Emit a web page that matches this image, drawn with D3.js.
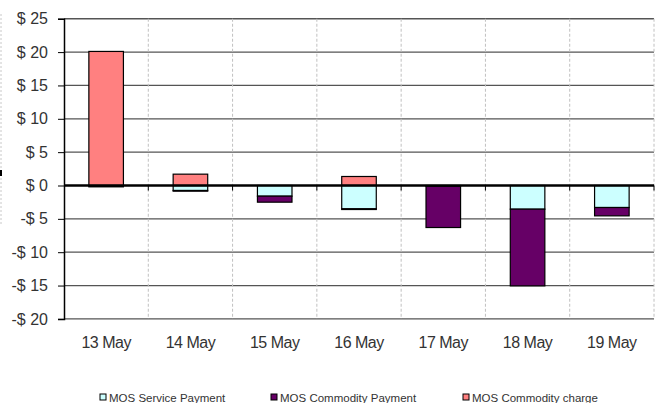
<!DOCTYPE html>
<html><head><meta charset="utf-8">
<script src="https://cdn.jsdelivr.net/npm/d3@7"></script>
<style>body{margin:0;background:#fff}svg{display:block}text{font-family:"Liberation Sans",Arial,sans-serif}</style>
</head><body><svg id="c" width="656" height="403"></svg>
<script>
const categories = ["13 May","14 May","15 May","16 May","17 May","18 May","19 May"];
const servicePayment   = [-0.05,-0.75,-1.6,-3.5,-0.1,-3.55,-3.3];
const commodityPayment = [-0.15,-0.1,-0.9,-0.1,-6.2,-11.5,-1.25];
const commodityCharge  = [20.1,1.7,0,1.35,0,0,0];
const yTicks = [25,20,15,10,5,0,-5,-10,-15,-20];
const seriesNames = ["MOS Service Payment","MOS Commodity Payment","MOS Commodity charge"];
const colors = ["#CCFFFF","#660066","#FF8080"];

const svg = d3.select("#c");
const L=64, R=654, T=18.75, B=318.9;
const x = d3.scaleBand().domain(categories).range([L,R]).paddingInner(0.59).paddingOuter(0.295);
const xb = d3.scaleBand().domain(categories).range([L,R]);
const y = d3.scaleLinear().domain([-20,25]).range([B,T]);

// left crop border
svg.append("line").attr("x1",1).attr("x2",1).attr("y1",14).attr("y2",225)
  .attr("stroke","#c8c8c8").attr("stroke-dasharray","2,2");
svg.append("rect").attr("x",0).attr("y",170).attr("width",2).attr("height",6).attr("fill","#000");

// horizontal gridlines
svg.append("g").selectAll("line").data(yTicks.filter(d=>d!==0)).join("line")
  .attr("x1",L).attr("x2",R).attr("y1",d=>y(d)).attr("y2",d=>y(d))
  .attr("stroke","#555").attr("stroke-width",1.3);
// vertical dashed gridlines
svg.append("g").selectAll("line").data(categories).join("line")
  .attr("x1",d=>xb(d)+xb.bandwidth()).attr("x2",d=>xb(d)+xb.bandwidth())
  .attr("y1",T).attr("y2",B).attr("stroke","#c0c0c0").attr("stroke-dasharray","3,2");

// stacked bars
const rows = categories.map((c,i)=>({c, s:servicePayment[i], p:commodityPayment[i], ch:commodityCharge[i]}));
const g = svg.append("g");
rows.forEach((r,i)=>{
  const segs = [];
  segs.push({y0:0,y1:r.s,col:colors[0]});
  segs.push({y0:r.s,y1:r.s+r.p,col:colors[1]});
  if(r.ch>0) segs.push({y0:0,y1:r.ch,col:colors[2]});
  segs.forEach(s=>{
    if(s.y0===s.y1) return;
    g.append("rect").attr("x",x(r.c)).attr("width",x.bandwidth())
      .attr("y",y(Math.max(s.y0,s.y1))).attr("height",Math.abs(y(s.y0)-y(s.y1)))
      .attr("fill",s.col).attr("stroke","#000").attr("stroke-width",1.2);
  });
});

// zero axis with ticks
const xAxis = svg.append("g").attr("transform",`translate(0,${y(0)})`);
xAxis.append("line").attr("x1",L).attr("x2",R).attr("stroke","#000").attr("stroke-width",2.5);
xAxis.selectAll("line.t").data(categories).join("line").attr("class","t")
  .attr("x1",d=>xb(d)+xb.bandwidth()).attr("x2",d=>xb(d)+xb.bandwidth())
  .attr("y1",0).attr("y2",5).attr("stroke","#000");

// y axis
const yAxis = svg.append("g").attr("transform",`translate(${L},0)`)
  .call(d3.axisLeft(y).tickValues(yTicks).tickSize(6).tickPadding(10)
    .tickFormat(d=> (d<0?"-$ ":"$ ")+Math.abs(d)));
yAxis.select(".domain").attr("stroke","#000").attr("stroke-width",1.5);
yAxis.selectAll(".tick line").attr("stroke","#000");
yAxis.selectAll("text").attr("font-size",16).attr("fill","#333")
  .attr("font-family","'Liberation Sans',Arial,sans-serif");

// category labels
svg.append("g").selectAll("text").data(categories).join("text")
  .attr("x",d=>xb(d)+xb.bandwidth()/2).attr("y",348).attr("text-anchor","middle")
  .attr("font-size",16).attr("fill","#333").attr("letter-spacing","-0.5").text(d=>d);

// legend
const lx=[100,271,463];
const lg = svg.append("g").selectAll("g").data(seriesNames).join("g")
  .attr("transform",(d,i)=>`translate(${lx[i]},398)`);
lg.append("rect").attr("x",0).attr("y",-4).attr("width",6).attr("height",6)
  .attr("fill",(d,i)=>colors[i]).attr("stroke","#000").attr("stroke-width",1);
lg.append("text").attr("x",9).attr("y",1).attr("dominant-baseline","middle")
  .attr("font-size",11.5).attr("fill","#333").text(d=>d);
</script></body></html>
